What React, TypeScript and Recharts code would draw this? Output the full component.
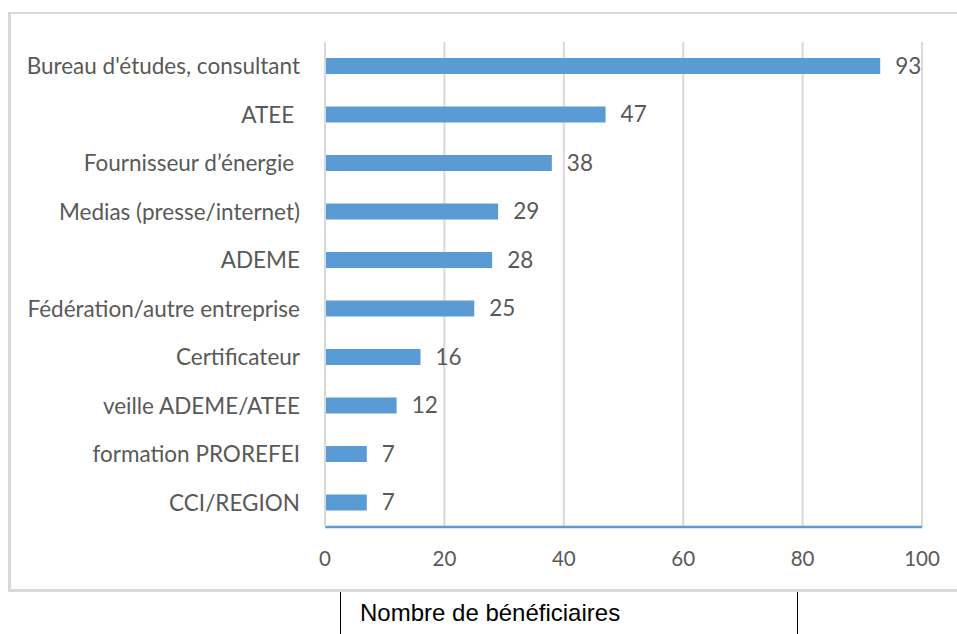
import { Bar, BarChart, CartesianGrid, LabelList, XAxis, YAxis } from 'recharts';

const sources = [
  "Bureau d'études, consultant",
  'ATEE\u00a0',
  'Fournisseur d\u2019énergie\u00a0',
  'Medias (presse/internet)',
  'ADEME',
  'Fédération/autre entreprise',
  'Certificateur',
  'veille ADEME/ATEE',
  'formation PROREFEI',
  'CCI/REGION',
];
const beneficiaires = [93, 47, 38, 29, 28, 25, 16, 12, 7, 7];
const xTicks = [0, 20, 40, 60, 80, 100];
const axisTitle = 'Nombre de bénéficiaires';

const BLUE = '#5b9bd5';
const GRID = '#d9d9d9';
const TEXT = '#595959';
const FONT = 'Lato, "Open Sans", sans-serif';

export default function App() {
  const chartData = sources.map((name, index) => ({
    name,
    value: beneficiaires[index] ?? 0,
  }));

  return (
    <div
      style={{
        position: 'absolute',
        left: 0,
        top: 0,
        width: 957,
        height: 634,
        overflow: 'hidden',
        background: '#fff',
      }}
    >
      {/* frame of the chart area, open on the right */}
      <div
        style={{
          position: 'absolute',
          left: 8,
          top: 12,
          width: 980,
          height: 575,
          borderLeft: `3px solid ${GRID}`,
          borderTop: `2px solid ${GRID}`,
          borderBottom: `3px solid ${GRID}`,
        }}
      />
      <div style={{ position: 'absolute', left: 0, top: 0 }}>
        <BarChart
          width={957}
          height={600}
          data={chartData}
          layout="vertical"
          barCategoryGap={0}
          margin={{ top: 42, right: 35, left: 0, bottom: 0 }}
        >
          <CartesianGrid horizontal={false} stroke={GRID} strokeWidth={2} />
          <XAxis
            type="number"
            domain={[0, 100]}
            ticks={xTicks}
            height={73}
            axisLine={{ stroke: BLUE, strokeWidth: 2.5 }}
            tickLine={false}
            tickSize={0}
            tickMargin={24}
            tick={{ fill: TEXT, fontSize: 20.5, fontFamily: FONT }}
          />
          <YAxis
            type="category"
            dataKey="name"
            width={325}
            interval={0}
            axisLine={{ stroke: GRID, strokeWidth: 2 }}
            tickLine={false}
            tickSize={0}
            tickMargin={25}
            tick={{ fill: TEXT, fontSize: 22.5, fontFamily: FONT }}
          />
          <Bar dataKey="value" fill={BLUE} barSize={16} isAnimationActive={false}>
            <LabelList
              dataKey="value"
              position="right"
              offset={15}
              fill={TEXT}
              fontSize={22.5}
              fontFamily={FONT}
            />
          </Bar>
        </BarChart>
      </div>
      <div style={{ position: 'absolute', left: 340, top: 592, width: 1, height: 42, background: '#000' }} />
      <div style={{ position: 'absolute', left: 797, top: 592, width: 1, height: 42, background: '#000' }} />
      <div
        style={{
          position: 'absolute',
          left: 360,
          top: 599,
          fontFamily: '"Liberation Sans", Arial, sans-serif',
          fontSize: 24,
          color: '#000',
          whiteSpace: 'nowrap',
        }}
      >
        {axisTitle}
      </div>
    </div>
  );
}
